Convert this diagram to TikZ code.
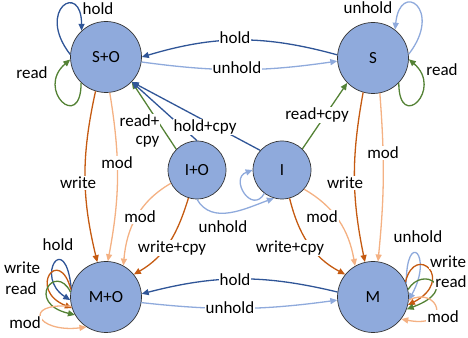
\documentclass[tikz,border=0pt]{standalone}
\usepackage{fontspec}
\setmainfont{Carlito}
\usetikzlibrary{arrows.meta}
\definecolor{nodefill}{HTML}{8FAADC}
\definecolor{cdblue}{HTML}{2F5597}
\definecolor{clblue}{HTML}{8FAADC}
\definecolor{cgreen}{HTML}{548235}
\definecolor{corange}{HTML}{C55A11}
\definecolor{clorange}{HTML}{F4B183}
\begin{document}
\begin{tikzpicture}[x=1pt,y=1pt,
  state/.style={circle, draw=black!80, fill=nodefill, line width=0.7pt, inner sep=0pt,
    font=\fontsize{17}{20}\selectfont},
  bigstate/.style={state, minimum size=71pt},
  smallstate/.style={state, minimum size=58pt},
  lbl/.style={fill=white, inner sep=1pt, font=\fontsize{17}{18}\selectfont},
  tr/.style={line width=1.3pt, -{Triangle[length=7pt,width=6pt]}}
]
\useasboundingbox (0,0) rectangle (468,337);

% states
\node[bigstate]   (SO) at (106,280) {S+O};
\node[bigstate]   (S)  at (373,279) {S};
\node[bigstate]   (MO) at (106,40)  {M+O};
\node[bigstate]   (M)  at (373,40)  {M};
\node[smallstate] (IO) at (197,167) {I+O};
\node[smallstate] (I)  at (282,167) {I};

% S and S+O
\draw[tr, cdblue] (S.175) to[bend right=16] (SO.0);
\draw[tr, clblue] (SO.-8) to[bend right=8] (S.185);
\draw[tr, cdblue] (SO.176) .. controls +(-35,45) and +(0,50) .. (SO.133);
\draw[tr, cgreen] (SO.226) .. controls +(0,-50) and +(-35,-30) .. (SO.184);
\draw[tr, clblue] (S.6) .. controls +(35,45) and +(5,50) .. (S.52);
\draw[tr, cgreen] (S.-44) .. controls +(0,-50) and +(35,-30) .. (S.-2);

% M and M+O
\draw[tr, cdblue] (M.172) to[bend right=14] (MO.5);
\draw[tr, clblue] (MO.-9) to[bend right=7] (M.185);
\draw[tr, cdblue] (MO.166) .. controls +(-6,60) and +(-36,23) .. (MO.185);
\draw[tr, corange] (MO.168) .. controls +(-12,45) and +(-45,18) .. (MO.198);
\draw[tr, cgreen] (MO.172) .. controls +(-15,30) and +(-50,12) .. (MO.210);
\draw[tr, clorange] (MO.195) .. controls +(-50,4) and +(-50,-6) .. (MO.237);
\draw[tr, clblue] (M.22) .. controls +(0,55) and +(25,45) .. (M.-5);
\draw[tr, corange] (M.25) .. controls +(10,40) and +(48,25) .. (M.-13);
\draw[tr, cgreen] (M.12) .. controls +(15,25) and +(54,20) .. (M.-20);
\draw[tr, clorange] (M.-5) .. controls +(30,15) and +(52,-10) .. (M.-38);

% vertical transitions
\draw[tr, corange] (SO.-107) to[bend right=13] (MO.104);
\draw[tr, clorange] (SO.-84) to[bend left=10] (MO.87);
\draw[tr, corange] (S.-106) to[bend right=11] (M.103);
\draw[tr, clorange] (S.-79) to[bend left=5] (M.82);

% transitions of I+O and I
\draw[tr, cgreen] (IO.135) -- (SO.-44);
\draw[tr, cdblue] (IO.90) -- (SO.-44);
\draw[tr, cdblue] (I.138) -- (SO.-44);
\draw[tr, clorange] (IO.207) to[out=-150,in=85] (MO.61);
\draw[tr, corange] (IO.-107) to[out=-107,in=30] (MO.39);
\draw[tr, clblue] (IO.-90) to[out=-60,in=200] (I.-106);
\draw[tr, clblue] (I.-127) to[out=-120,in=200,distance=25] (I.180);
\draw[tr, cgreen] (I.46) -- (S.224);
\draw[tr, corange] (I.-75) to[out=-76,in=152] (M.141);
\draw[tr, clorange] (I.-41) to[out=-30,in=100] (M.120);

% labels
\node[lbl] (lSOhold) at (98,328) {hold};
\node[lbl] (lSOread) at (32,264) {read};
\node[lbl] (lSunhold) at (368,329) {unhold};
\node[lbl] (lSread) at (442,267) {read};
\node[lbl] (lTophold) at (235,299) {hold};
\node[lbl] (lTopunhold) at (237,269) {unhold};
\node[lbl] (lBothold) at (235,57) {hold};
\node[lbl] (lBotunhold) at (230,29) {unhold};
\node[lbl] (lLwrite) at (78,154) {write};
\node[lbl] (lLmod) at (117,174) {mod};
\node[lbl, align=right] (lIOread) at (139.5,206) {read+\\cpy};
\node[lbl] (lholdcpy) at (205,210) {hold+cpy};
\node[lbl] (lIread) at (317,222) {read+cpy};
\node[lbl] (lIOmod) at (140,120) {mod};
\node[lbl] (lIOwrite) at (172,89) {write+cpy};
\node[lbl] (lIunhold) at (223,110) {unhold};
\node[lbl] (lIwrite) at (290,89) {write+cpy};
\node[lbl] (lImod) at (322,120) {mod};
\node[lbl] (lRwrite) at (345,154) {write};
\node[lbl] (lRmod) at (383,184) {mod};
\node[lbl] (lMOhold) at (58,92) {hold};
\node[lbl] (lMOwrite) at (22,69) {write};
\node[lbl] (lMOread) at (21,48) {read};
\node[lbl] (lMOmod) at (25,14) {mod};
\node[lbl] (lMunhold) at (418,100) {unhold};
\node[lbl] (lMwrite) at (448,75) {write};
\node[lbl] (lMread) at (451,55) {read};
\node[lbl] (lMmod) at (443,20) {mod};
\end{tikzpicture}
\end{document}
